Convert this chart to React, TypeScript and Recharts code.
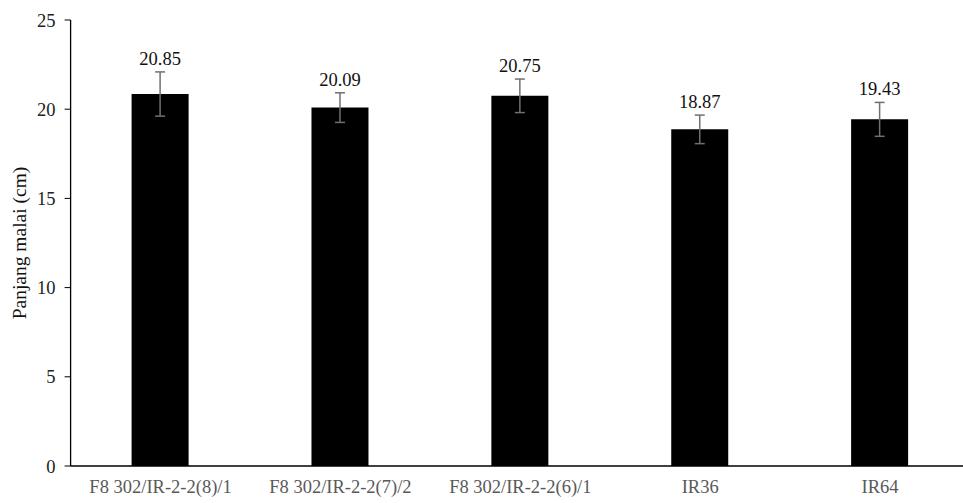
import { Bar, BarChart, ErrorBar, LabelList, XAxis, YAxis } from "recharts";

// Panjang malai per genotype
const categories = [
  "F8 302/IR-2-2(8)/1",
  "F8 302/IR-2-2(7)/2",
  "F8 302/IR-2-2(6)/1",
  "IR36",
  "IR64",
];
const means = [20.85, 20.09, 20.75, 18.87, 19.43];
const errors = [1.24, 0.83, 0.94, 0.8, 0.95];
const yTicks = [0, 5, 10, 15, 20, 25];

const FONT = '"Liberation Serif", "Times New Roman", serif';

const data = categories.map((name, i) => ({
  name,
  value: means[i],
  err: errors[i],
}));

// label sits above the error bar cap, not the bar top
function MeanLabel(props: any) {
  const { x, y, width, height, value, index } = props;
  const perUnit = height / value;
  const capY = y - errors[index] * perUnit;
  return (
    <text
      x={x + width / 2}
      y={capY - 7}
      textAnchor="middle"
      fontFamily={FONT}
      fontSize={18.5}
      fill="#111"
    >
      {value.toFixed(2)}
    </text>
  );
}

function YTitle(props: any) {
  const { viewBox } = props;
  const cy = viewBox.y + viewBox.height / 2;
  return (
    <text
      x={19}
      y={cy}
      transform={`rotate(-90, 19, ${cy})`}
      textAnchor="middle"
      dominantBaseline="central"
      fontFamily={FONT}
      fontSize={19.5}
      fill="#111"
    >
      Panjang malai (cm)
    </text>
  );
}

export default function App() {
  return (
    <div
      style={{
        position: "fixed",
        left: 0,
        top: 0,
        width: 963,
        height: 503,
        overflow: "hidden",
        background: "#fff",
      }}
    >
      <BarChart
        width={972}
        height={503}
        data={data}
        margin={{ top: 20, right: 2, left: 0, bottom: 0 }}
      >
        <XAxis
          dataKey="name"
          height={37}
          tickLine={false}
          axisLine={{ stroke: "#000", strokeWidth: 1.3 }}
          tick={{ fill: "#595959", fontFamily: FONT, fontSize: 18.5 }}
          tickMargin={8}
          interval={0}
        />
        <YAxis
          width={70.6}
          domain={[0, 25]}
          ticks={yTicks}
          tickLine={{ stroke: "#000" }}
          tickSize={6}
          tickMargin={9}
          axisLine={{ stroke: "#000", strokeWidth: 1.3 }}
          tick={{ fill: "#222", fontFamily: FONT, fontSize: 18.5 }}
          label={<YTitle />}
        />
        <Bar dataKey="value" fill="#000" barSize={57} isAnimationActive={false}>
          <ErrorBar
            dataKey="err"
            width={5}
            stroke="#707070"
            strokeWidth={1.5}
            isAnimationActive={false}
          />
          <LabelList dataKey="value" content={MeanLabel} />
        </Bar>
      </BarChart>
    </div>
  );
}
